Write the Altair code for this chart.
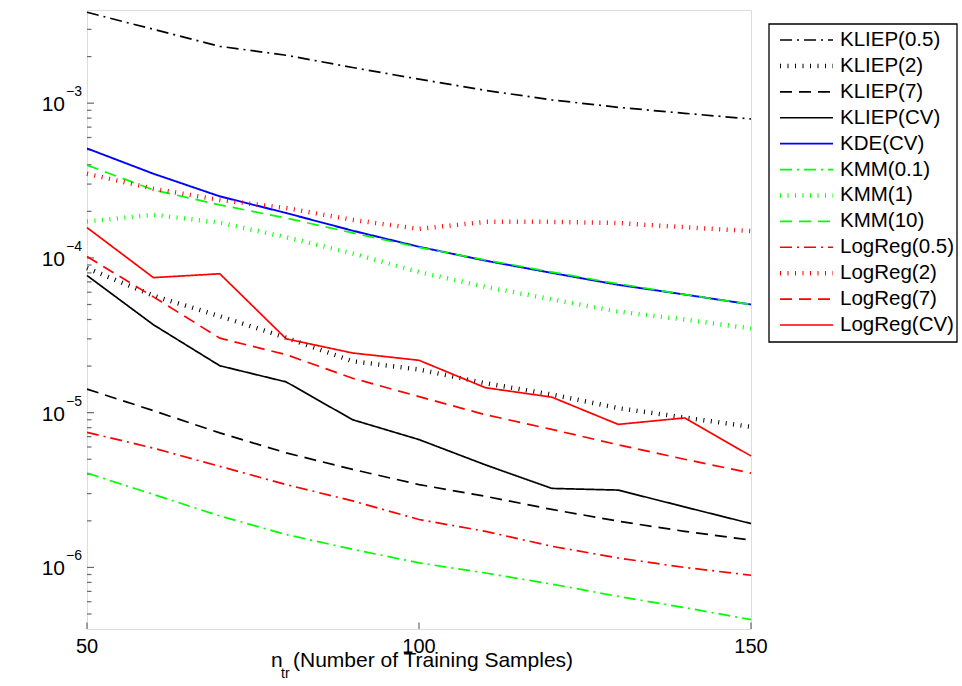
import altair as alt
import pandas as pd

FONT = "Liberation Sans"

# ---------------- data ----------------
n_tr = [50, 60, 70, 80, 90, 100, 110, 120, 130, 140, 150]

series_names = ["KLIEP(0.5)", "KLIEP(2)", "KLIEP(7)", "KLIEP(CV)", "KDE(CV)",
                "KMM(0.1)", "KMM(1)", "KMM(10)",
                "LogReg(0.5)", "LogReg(2)", "LogReg(7)", "LogReg(CV)"]

kliep_05 = [3.87e-3, 3.0e-3, 2.33e-3, 2.04e-3, 1.70e-3, 1.43e-3, 1.21e-3, 1.05e-3, 9.4e-4, 8.6e-4, 7.9e-4]
kliep_2 = [8.6e-5, 5.7e-5, 4.2e-5, 3.05e-5, 2.15e-5, 1.9e-5, 1.55e-5, 1.31e-5, 1.07e-5, 9.3e-6, 8.1e-6]
kliep_7 = [1.42e-5, 1.03e-5, 7.4e-6, 5.5e-6, 4.3e-6, 3.43e-6, 2.88e-6, 2.37e-6, 1.99e-6, 1.71e-6, 1.5e-6]
kliep_cv = [7.7e-5, 3.7e-5, 2.01e-5, 1.58e-5, 9.0e-6, 6.7e-6, 4.6e-6, 3.24e-6, 3.16e-6, 2.46e-6, 1.92e-6]
kde_cv = [5.1e-4, 3.5e-4, 2.5e-4, 1.95e-4, 1.5e-4, 1.18e-4, 9.6e-5, 8.0e-5, 6.7e-5, 5.8e-5, 5.0e-5]
kmm_01 = [4.07e-6, 2.96e-6, 2.15e-6, 1.63e-6, 1.31e-6, 1.07e-6, 9.2e-7, 7.8e-7, 6.5e-7, 5.5e-7, 4.6e-7]
kmm_1 = [1.72e-4, 1.9e-4, 1.69e-4, 1.36e-4, 1.07e-4, 8.1e-5, 6.5e-5, 5.4e-5, 4.5e-5, 4.0e-5, 3.5e-5]
kmm_10 = [3.98e-4, 2.75e-4, 2.2e-4, 1.81e-4, 1.45e-4, 1.17e-4, 9.7e-5, 8.1e-5, 6.8e-5, 5.8e-5, 5.0e-5]
logreg_05 = [7.46e-6, 5.9e-6, 4.5e-6, 3.43e-6, 2.69e-6, 2.04e-6, 1.71e-6, 1.37e-6, 1.15e-6, 1.0e-6, 8.9e-7]
logreg_2 = [3.5e-4, 2.8e-4, 2.37e-4, 2.1e-4, 1.76e-4, 1.54e-4, 1.71e-4, 1.71e-4, 1.68e-4, 1.58e-4, 1.49e-4]
logreg_7 = [1.02e-4, 5.6e-5, 3.03e-5, 2.37e-5, 1.67e-5, 1.27e-5, 9.7e-6, 7.8e-6, 6.2e-6, 5.0e-6, 4.07e-6]
logreg_cv = [1.57e-4, 7.46e-5, 7.9e-5, 3.0e-5, 2.43e-5, 2.18e-5, 1.45e-5, 1.26e-5, 8.4e-6, 9.25e-6, 5.25e-6]

all_values = [kliep_05, kliep_2, kliep_7, kliep_cv, kde_cv, kmm_01, kmm_1, kmm_10,
              logreg_05, logreg_2, logreg_7, logreg_cv]

x_ticks = [50, 100, 150]
x_tick_labels = ["50", "100", "150"]
y_ticks = [1e-6, 1e-5, 1e-4, 1e-3]
y_exps = ["\u22126", "\u22125", "\u22124", "\u22123"]
y_minor = [5e-7, 6e-7, 7e-7, 8e-7, 9e-7,
           2e-6, 3e-6, 4e-6, 5e-6, 6e-6, 7e-6, 8e-6, 9e-6,
           2e-5, 3e-5, 4e-5, 5e-5, 6e-5, 7e-5, 8e-5, 9e-5,
           2e-4, 3e-4, 4e-4, 5e-4, 6e-4, 7e-4, 8e-4, 9e-4,
           2e-3, 3e-3]

# ---------------- styles ----------------
BLACK, BLUE, GREEN, RED = "#000000", "#0000ff", "#00ff00", "#ff0000"
colors = [BLACK, BLACK, BLACK, BLACK, BLUE, GREEN, GREEN, GREEN, RED, RED, RED, RED]
DASHDOT = [12, 5, 2, 5]
DOT = [1, 6.5]
DASH = [12, 7]
SOLID = [1, 0]
dashes = [DASHDOT, DOT, DASH, SOLID, SOLID, DASHDOT, DOT, DASH, DASHDOT, DOT, DASH, SOLID]
widths = [1.7, 4.5, 1.7, 1.7, 1.9, 1.7, 4.5, 1.7, 1.7, 4.5, 1.7, 1.7]
width_of = dict(zip(series_names, widths))

rows = []
for name, vals in zip(series_names, all_values):
    for n, v in zip(n_tr, vals):
        rows.append({"series": name, "n": n, "nmse": v, "sw": width_of[name]})
df = pd.DataFrame(rows)

W, H = 664, 619
AX = "#6a6a6a"
Y_DOMAIN = [4e-7, 4e-3]

yscale = alt.Scale(type="log", domain=Y_DOMAIN, nice=False)
xscale = alt.Scale(domain=[50, 150], nice=False, zero=False)

color_enc = alt.Color("series:N", scale=alt.Scale(domain=series_names, range=colors), legend=None)
dash_enc = alt.StrokeDash("series:N", scale=alt.Scale(domain=series_names, range=dashes), legend=None)
width_enc = alt.StrokeWidth("sw:Q", scale=None, legend=None)

lines = alt.Chart(df).mark_line().encode(
    x=alt.X("n:Q", scale=xscale,
            axis=alt.Axis(values=x_ticks, title=None, ticks=False, grid=False, labels=False,
                          domainColor=AX, domainWidth=1.8)),
    y=alt.Y("nmse:Q", scale=yscale,
            axis=alt.Axis(title="Average NMSE over 100 Trials (in Log Scale)",
                          labels=False, ticks=False, grid=False,
                          domainColor=AX, domainWidth=1.8,
                          titleFont=FONT, titleFontSize=21, titleFontWeight="normal",
                          titleColor="black", titleAngle=-90, titleX=-54, titleY=H / 2,
                          titleBaseline="alphabetic", titleAlign="center")),
    color=color_enc,
    strokeDash=dash_enc,
    strokeWidth=width_enc,
    order=alt.Order("n:Q"),
)

ytick_df = pd.DataFrame({"tick": y_ticks, "base": ["10"] * len(y_ticks), "exp": y_exps})
minor_df = pd.DataFrame({"tick": y_minor})
xtick_df = pd.DataFrame({"tick": x_ticks, "label": x_tick_labels})

y_major_ticks = alt.Chart(ytick_df).mark_rule(color=AX, strokeWidth=1.2).encode(
    y=alt.Y("tick:Q", scale=yscale, axis=None), x=alt.value(0), x2=alt.value(7))
y_minor_ticks = alt.Chart(minor_df).mark_rule(color=AX, strokeWidth=1.2).encode(
    y=alt.Y("tick:Q", scale=yscale, axis=None), x=alt.value(0), x2=alt.value(4.5))
x_major_ticks = alt.Chart(xtick_df).mark_rule(color=AX, strokeWidth=1.2).encode(
    x=alt.X("tick:Q", scale=xscale, axis=None), y=alt.value(H), y2=alt.value(H - 6.5))

x_labels = alt.Chart(xtick_df).mark_text(
    align="center", baseline="alphabetic", font=FONT, fontSize=20, color="black").encode(
    x=alt.X("tick:Q", scale=xscale, axis=None), y=alt.value(H + 24), text="label:N")

y_base_labels = alt.Chart(ytick_df).mark_text(
    align="right", baseline="middle", font=FONT, fontSize=21, dy=2, color="black").encode(
    y=alt.Y("tick:Q", scale=yscale, axis=None), x=alt.value(-22), text="base:N")
y_exp_labels = alt.Chart(ytick_df).mark_text(
    align="left", baseline="middle", font=FONT, fontSize=14, dy=-11, color="black").encode(
    y=alt.Y("tick:Q", scale=yscale, axis=None), x=alt.value(-21), text="exp:N")

# x-axis title with subscript
xtitle_df = pd.DataFrame({"main": ["n"], "sub": ["tr"], "rest": ["(Number of Training Samples)"]})
xt_n = alt.Chart(xtitle_df).mark_text(align="left", baseline="alphabetic", font=FONT,
                                      fontSize=21, color="black").encode(
    x=alt.value(184), y=alt.value(657), text="main:N")
xt_sub = alt.Chart(xtitle_df).mark_text(align="left", baseline="alphabetic", font=FONT,
                                        fontSize=14, color="black").encode(
    x=alt.value(194), y=alt.value(668), text="sub:N")
xt_rest = alt.Chart(xtitle_df).mark_text(align="left", baseline="alphabetic", font=FONT,
                                         fontSize=21, color="black").encode(
    x=alt.value(206), y=alt.value(657), text="rest:N")

main = alt.layer(y_minor_ticks, y_major_ticks, x_major_ticks, lines, x_labels,
                 y_base_labels, y_exp_labels, xt_n, xt_sub, xt_rest)

# ---------------- legend (manual) ----------------
leg_df = pd.DataFrame({"series": series_names, "sw": widths})
leg_y = alt.Y("series:N", scale=alt.Scale(type="point", domain=series_names,
                                          range=[30, 315], padding=0), axis=None)
leg_box = alt.Chart(pd.DataFrame({"k": [0]})).mark_rect(
    fill="white", stroke="black", strokeWidth=1.3).encode(
    x=alt.value(682), x2=alt.value(870), y=alt.value(14), y2=alt.value(332))
leg_lines = alt.Chart(leg_df).mark_rule().encode(
    y=leg_y, x=alt.value(693), x2=alt.value(746),
    color=color_enc, strokeDash=dash_enc, strokeWidth=width_enc)
leg_text = alt.Chart(leg_df).mark_text(align="left", baseline="middle", font=FONT,
                                       fontSize=20.5, color="black").encode(
    y=leg_y, x=alt.value(753), text="series:N")
legend = alt.layer(leg_box, leg_lines, leg_text)

chart = alt.layer(main, legend).resolve_scale(y="independent").properties(
    width=W, height=H,
    autosize=alt.AutoSizeParams(type="none"),
    padding={"left": 87, "top": 10, "right": 962 - 87 - W, "bottom": 686 - 10 - H},
).configure_view(stroke=None).configure(font=FONT, background="white")

chart.save("out.html", embed_options={"renderer": "svg", "actions": False})
